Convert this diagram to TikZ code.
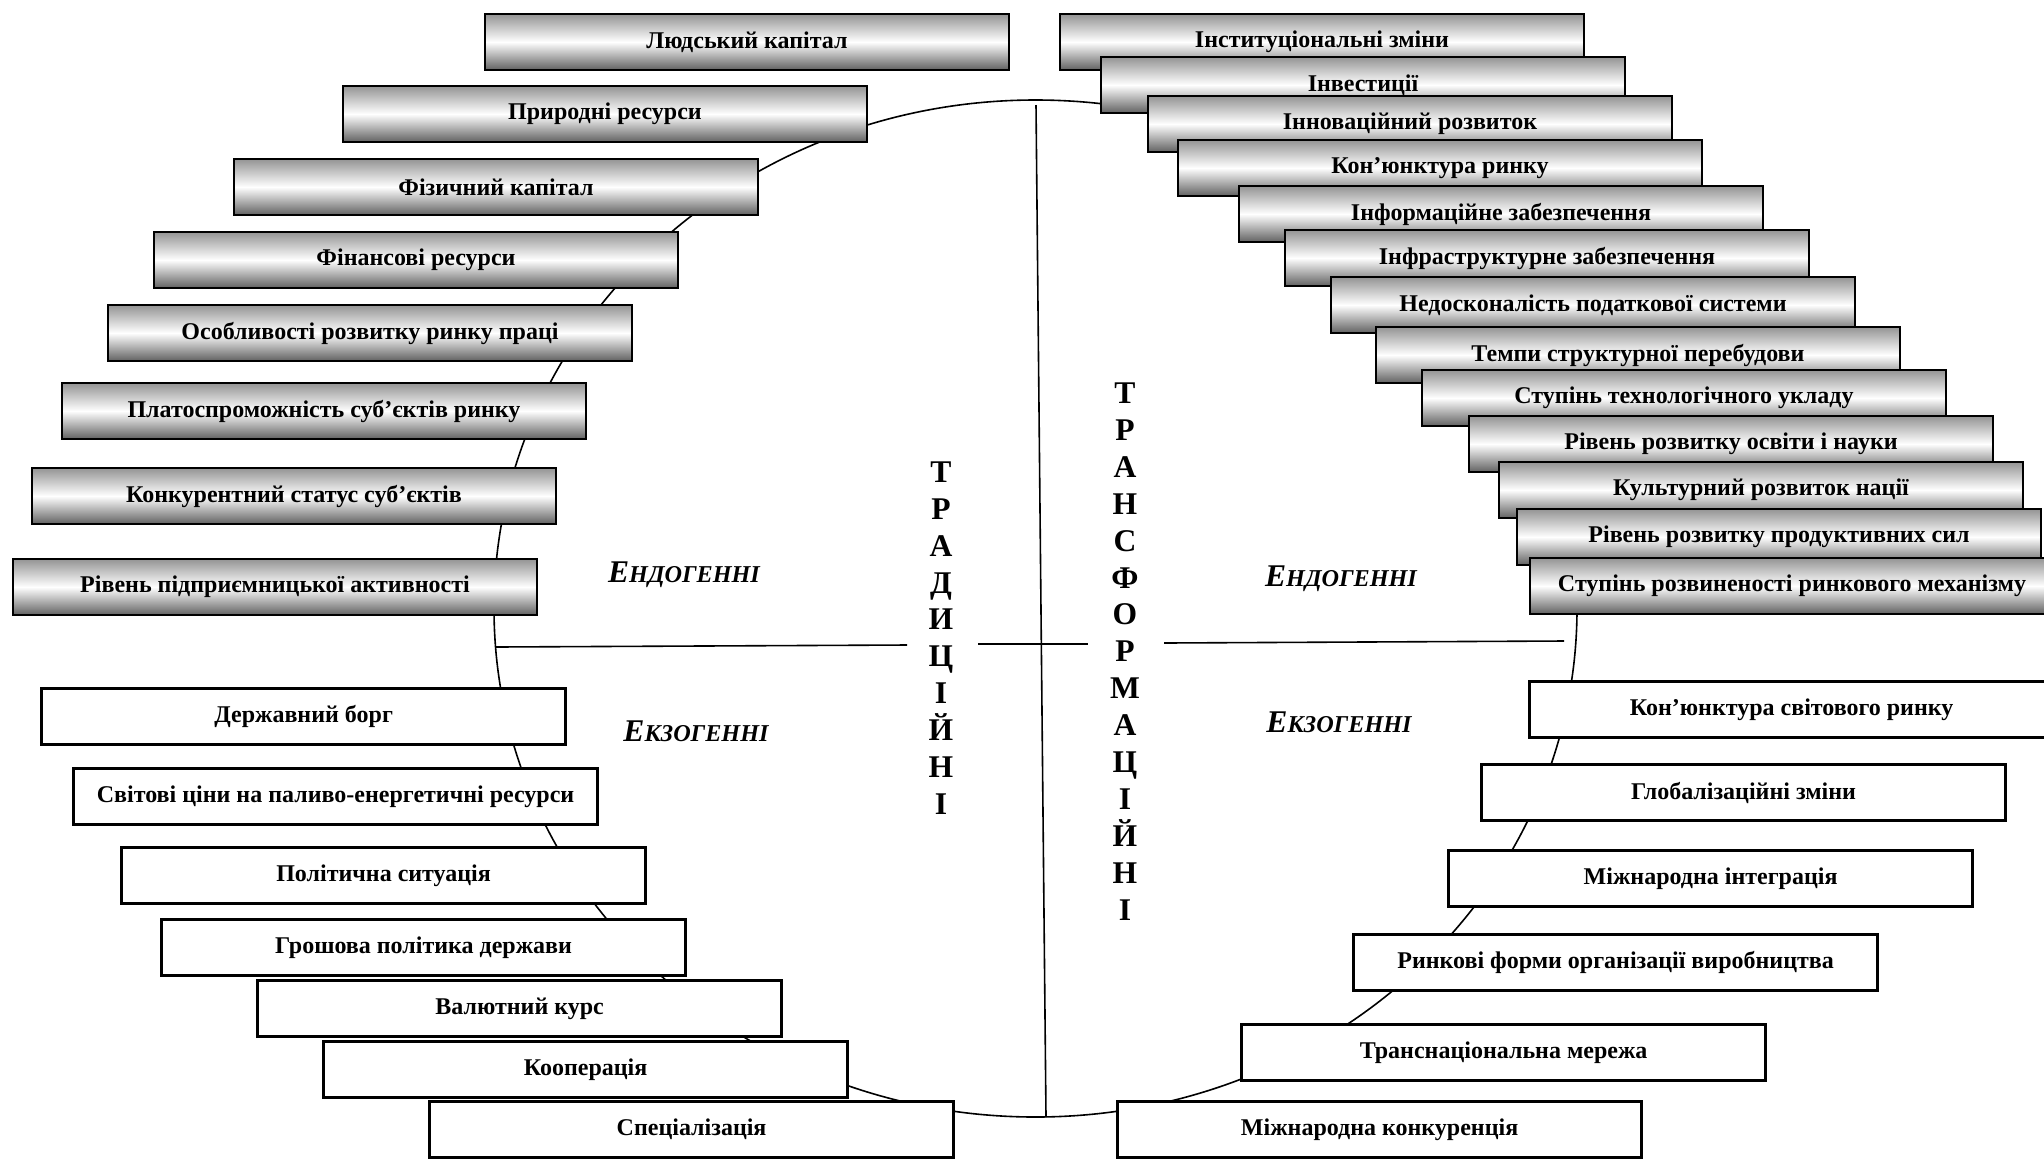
\documentclass[tikz,border=0pt]{standalone}
\usepackage{fontspec}
\setmainfont{Liberation Serif}
\newcommand\sclab[2]{{\fontsize{15.8}{15}\selectfont #1}{\fontsize{12.1}{15}\selectfont #2}}
\begin{document}
\begin{tikzpicture}[x=0.5pt,y=-0.5pt,
  boxbase/.style={minimum width=262pt, minimum height=28pt, anchor=north west, inner sep=0pt,
    font=\fontsize{12}{14}\selectfont\bfseries},
  gbox/.style={boxbase, draw=black, line width=1pt, top color=black!42, bottom color=black!62, middle color=white},
  wbox/.style={boxbase, draw=black, line width=1.6pt, fill=white},
  catlab/.style={font=\bfseries\itshape, inner sep=0pt},
  vert/.style={align=center, font=\fontsize{15.8}{18.45}\selectfont\bfseries, inner sep=0pt},
  ln/.style={line width=0.8pt}]
\useasboundingbox (0,0) rectangle (2044,1158);

% ellipse and axes
\coordinate (ctr) at (1035.5,608.5);
\draw[ln] (ctr) ellipse [x radius=270.75pt, y radius=254.25pt];
\coordinate (vtop) at (1036,105);
\coordinate (vbot) at (1046,1117);
\draw[ln] (vtop) -- (vbot);
\coordinate (h1) at (495,647);
\coordinate (h2) at (907,645);
\coordinate (h3) at (978,644);
\coordinate (h4) at (1088,644);
\coordinate (h5) at (1164,643);
\coordinate (h6) at (1564,641);
\draw[ln] (h1) -- (h2);
\draw[ln] (h3) -- (h4);
\draw[ln] (h5) -- (h6);

% vertical words
\node[vert] (trad) at (941,638) {Т\\Р\\А\\Д\\И\\Ц\\І\\Й\\Н\\І};
\node[vert] (trans) at (1125,651.5) {Т\\Р\\А\\Н\\С\\Ф\\О\\Р\\М\\А\\Ц\\І\\Й\\Н\\І};

% category labels
\node[catlab] (endL) at (684,575) {\sclab{Е}{НДОГЕННІ}};
\node[catlab] (endR) at (1341,579) {\sclab{Е}{НДОГЕННІ}};
\node[catlab] (exoL) at (696,731) {\sclab{Е}{КЗОГЕННІ}};
\node[catlab] (exoR) at (1339,722) {\sclab{Е}{КЗОГЕННІ}};

% left endogenous (traditional)
\node[gbox] (L1) at (484,13) {Людський капітал};
\node[gbox] (L2) at (342,85) {Природні ресурси};
\node[gbox] (L3) at (233,158) {Фізичний капітал};
\node[gbox] (L4) at (153,231) {Фінансові ресурси};
\node[gbox] (L5) at (107,304) {Особливості розвитку ринку праці};
\node[gbox] (L6) at (61,382) {Платоспроможність суб’єктів ринку};
\node[gbox] (L7) at (31,467) {Конкурентний статус суб’єктів};
\node[gbox] (L8) at (12,558) {Рівень підприємницької активності};

% right endogenous (transformational)
\node[gbox] (R1) at (1059,13) {Інституціональні зміни};
\node[gbox] (R2) at (1100,56) {Інвестиції};
\node[gbox] (R3) at (1147,95) {Інноваційний розвиток};
\node[gbox] (R4) at (1177,139) {Кон’юнктура ринку};
\node[gbox] (R5) at (1238,185) {Інформаційне забезпечення};
\node[gbox] (R6) at (1284,229) {Інфраструктурне забезпечення};
\node[gbox] (R7) at (1330,276) {Недосконалість податкової системи};
\node[gbox] (R8) at (1375,326) {Темпи структурної перебудови};
\node[gbox] (R9) at (1421,369) {Ступінь технологічного укладу};
\node[gbox] (R10) at (1468,415) {Рівень розвитку освіти і науки};
\node[gbox] (R11) at (1498,461) {Культурний розвиток нації};
\node[gbox] (R12) at (1516,508) {Рівень розвитку продуктивних сил};
\node[gbox] (R13) at (1529,557) {Ступінь розвиненості ринкового механізму};

% left exogenous
\node[wbox] (W1) at (40,687) {Державний борг};
\node[wbox] (W2) at (72,767) {Світові ціни на паливо-енергетичні ресурси};
\node[wbox] (W3) at (120,846) {Політична ситуація};
\node[wbox] (W4) at (160,918) {Грошова політика держави};
\node[wbox] (W5) at (256,979) {Валютний курс};
\node[wbox] (W6) at (322,1040) {Кооперація};
\node[wbox] (W7) at (428,1100) {Спеціалізація};

% right exogenous
\node[wbox] (E1) at (1528,680) {Кон’юнктура світового ринку};
\node[wbox] (E2) at (1480,763) {Глобалізаційні зміни};
\node[wbox] (E3) at (1447,849) {Міжнародна інтеграція};
\node[wbox] (E4) at (1352,933) {Ринкові форми організації виробництва};
\node[wbox] (E5) at (1240,1023) {Транснаціональна мережа};
\node[wbox] (E6) at (1116,1100) {Міжнародна конкуренція};
\end{tikzpicture}
\end{document}
